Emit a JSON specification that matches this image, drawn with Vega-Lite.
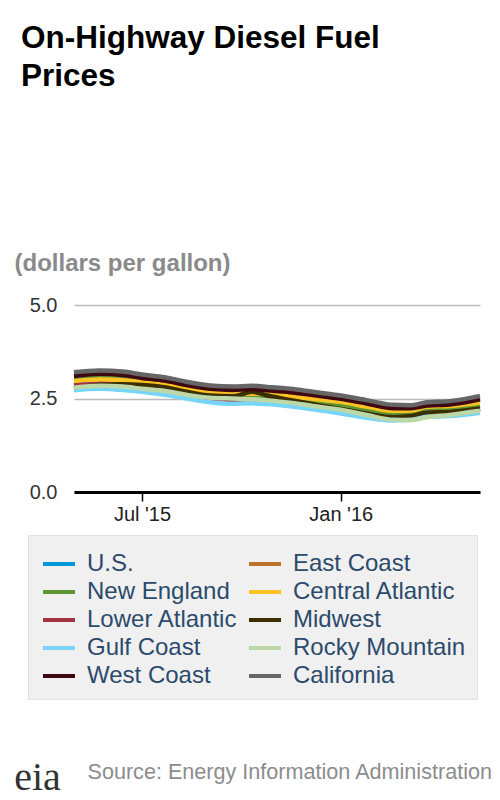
{
  "$schema": "https://vega.github.io/schema/vega-lite/v6.json",
  "width": 406,
  "height": 187,
  "autosize": {"type": "none"},
  "padding": {"left": 74, "top": 305, "right": 20, "bottom": 308},
  "background": "white",
  "title": {
    "text": ["On-Highway Diesel Fuel", "Prices"],
    "anchor": "start",
    "frame": "group",
    "align": "left",
    "baseline": "bottom",
    "dx": -53,
    "offset": 127,
    "font": "Liberation Sans",
    "fontSize": 31.5,
    "fontWeight": "bold",
    "lineHeight": 38,
    "color": "#000000"
  },
  "data": {
    "values": [
      {"r": "U.S.", "d": "2015-04-29", "p": 2.86}, {"r": "U.S.", "d": "2015-05-23", "p": 2.92}, {"r": "U.S.", "d": "2015-06-13", "p": 2.89}, {"r": "U.S.", "d": "2015-07-01", "p": 2.82}, {"r": "U.S.", "d": "2015-07-22", "p": 2.74}, {"r": "U.S.", "d": "2015-08-11", "p": 2.62}, {"r": "U.S.", "d": "2015-09-02", "p": 2.52}, {"r": "U.S.", "d": "2015-09-23", "p": 2.49}, {"r": "U.S.", "d": "2015-10-11", "p": 2.52}, {"r": "U.S.", "d": "2015-10-25", "p": 2.49}, {"r": "U.S.", "d": "2015-11-15", "p": 2.43}, {"r": "U.S.", "d": "2015-12-06", "p": 2.35}, {"r": "U.S.", "d": "2016-01-01", "p": 2.26}, {"r": "U.S.", "d": "2016-01-26", "p": 2.12}, {"r": "U.S.", "d": "2016-02-19", "p": 2.02}, {"r": "U.S.", "d": "2016-03-06", "p": 2.04}, {"r": "U.S.", "d": "2016-03-21", "p": 2.13}, {"r": "U.S.", "d": "2016-04-11", "p": 2.16}, {"r": "U.S.", "d": "2016-05-09", "p": 2.25},
      {"r": "East Coast", "d": "2015-04-29", "p": 2.98}, {"r": "East Coast", "d": "2015-05-23", "p": 3.02}, {"r": "East Coast", "d": "2015-06-13", "p": 2.99}, {"r": "East Coast", "d": "2015-07-01", "p": 2.92}, {"r": "East Coast", "d": "2015-07-22", "p": 2.85}, {"r": "East Coast", "d": "2015-08-11", "p": 2.73}, {"r": "East Coast", "d": "2015-09-02", "p": 2.61}, {"r": "East Coast", "d": "2015-09-23", "p": 2.56}, {"r": "East Coast", "d": "2015-10-11", "p": 2.55}, {"r": "East Coast", "d": "2015-10-25", "p": 2.53}, {"r": "East Coast", "d": "2015-11-15", "p": 2.47}, {"r": "East Coast", "d": "2015-12-06", "p": 2.39}, {"r": "East Coast", "d": "2016-01-01", "p": 2.31}, {"r": "East Coast", "d": "2016-01-26", "p": 2.19}, {"r": "East Coast", "d": "2016-02-19", "p": 2.09}, {"r": "East Coast", "d": "2016-03-06", "p": 2.10}, {"r": "East Coast", "d": "2016-03-21", "p": 2.19}, {"r": "East Coast", "d": "2016-04-11", "p": 2.22}, {"r": "East Coast", "d": "2016-05-09", "p": 2.31},
      {"r": "New England", "d": "2015-04-29", "p": 3.05}, {"r": "New England", "d": "2015-05-23", "p": 3.08}, {"r": "New England", "d": "2015-06-13", "p": 3.04}, {"r": "New England", "d": "2015-07-01", "p": 2.97}, {"r": "New England", "d": "2015-07-22", "p": 2.90}, {"r": "New England", "d": "2015-08-11", "p": 2.78}, {"r": "New England", "d": "2015-09-02", "p": 2.64}, {"r": "New England", "d": "2015-09-23", "p": 2.58}, {"r": "New England", "d": "2015-10-11", "p": 2.57}, {"r": "New England", "d": "2015-10-25", "p": 2.55}, {"r": "New England", "d": "2015-11-15", "p": 2.50}, {"r": "New England", "d": "2015-12-06", "p": 2.42}, {"r": "New England", "d": "2016-01-01", "p": 2.32}, {"r": "New England", "d": "2016-01-26", "p": 2.20}, {"r": "New England", "d": "2016-02-19", "p": 2.10}, {"r": "New England", "d": "2016-03-06", "p": 2.10}, {"r": "New England", "d": "2016-03-21", "p": 2.20}, {"r": "New England", "d": "2016-04-11", "p": 2.24}, {"r": "New England", "d": "2016-05-09", "p": 2.32},
      {"r": "Central Atlantic", "d": "2015-04-29", "p": 2.96}, {"r": "Central Atlantic", "d": "2015-05-23", "p": 3.01}, {"r": "Central Atlantic", "d": "2015-06-13", "p": 2.99}, {"r": "Central Atlantic", "d": "2015-07-01", "p": 2.93}, {"r": "Central Atlantic", "d": "2015-07-22", "p": 2.86}, {"r": "Central Atlantic", "d": "2015-08-11", "p": 2.76}, {"r": "Central Atlantic", "d": "2015-09-02", "p": 2.67}, {"r": "Central Atlantic", "d": "2015-09-23", "p": 2.64}, {"r": "Central Atlantic", "d": "2015-10-11", "p": 2.63}, {"r": "Central Atlantic", "d": "2015-10-25", "p": 2.62}, {"r": "Central Atlantic", "d": "2015-11-15", "p": 2.56}, {"r": "Central Atlantic", "d": "2015-12-06", "p": 2.49}, {"r": "Central Atlantic", "d": "2016-01-01", "p": 2.41}, {"r": "Central Atlantic", "d": "2016-01-26", "p": 2.28}, {"r": "Central Atlantic", "d": "2016-02-19", "p": 2.17}, {"r": "Central Atlantic", "d": "2016-03-06", "p": 2.18}, {"r": "Central Atlantic", "d": "2016-03-21", "p": 2.28}, {"r": "Central Atlantic", "d": "2016-04-11", "p": 2.30}, {"r": "Central Atlantic", "d": "2016-05-09", "p": 2.39},
      {"r": "Lower Atlantic", "d": "2015-04-29", "p": 2.85}, {"r": "Lower Atlantic", "d": "2015-05-23", "p": 2.89}, {"r": "Lower Atlantic", "d": "2015-06-13", "p": 2.86}, {"r": "Lower Atlantic", "d": "2015-07-01", "p": 2.80}, {"r": "Lower Atlantic", "d": "2015-07-22", "p": 2.72}, {"r": "Lower Atlantic", "d": "2015-08-11", "p": 2.60}, {"r": "Lower Atlantic", "d": "2015-09-02", "p": 2.46}, {"r": "Lower Atlantic", "d": "2015-09-23", "p": 2.41}, {"r": "Lower Atlantic", "d": "2015-10-11", "p": 2.41}, {"r": "Lower Atlantic", "d": "2015-10-25", "p": 2.39}, {"r": "Lower Atlantic", "d": "2015-11-15", "p": 2.36}, {"r": "Lower Atlantic", "d": "2015-12-06", "p": 2.30}, {"r": "Lower Atlantic", "d": "2016-01-01", "p": 2.20}, {"r": "Lower Atlantic", "d": "2016-01-26", "p": 2.07}, {"r": "Lower Atlantic", "d": "2016-02-19", "p": 1.98}, {"r": "Lower Atlantic", "d": "2016-03-06", "p": 1.99}, {"r": "Lower Atlantic", "d": "2016-03-21", "p": 2.08}, {"r": "Lower Atlantic", "d": "2016-04-11", "p": 2.12}, {"r": "Lower Atlantic", "d": "2016-05-09", "p": 2.20},
      {"r": "Midwest", "d": "2015-04-29", "p": 2.76}, {"r": "Midwest", "d": "2015-05-23", "p": 2.86}, {"r": "Midwest", "d": "2015-06-13", "p": 2.88}, {"r": "Midwest", "d": "2015-07-01", "p": 2.86}, {"r": "Midwest", "d": "2015-07-22", "p": 2.80}, {"r": "Midwest", "d": "2015-08-11", "p": 2.68}, {"r": "Midwest", "d": "2015-09-02", "p": 2.58}, {"r": "Midwest", "d": "2015-09-23", "p": 2.56}, {"r": "Midwest", "d": "2015-10-11", "p": 2.68}, {"r": "Midwest", "d": "2015-10-25", "p": 2.58}, {"r": "Midwest", "d": "2015-11-15", "p": 2.46}, {"r": "Midwest", "d": "2015-12-06", "p": 2.35}, {"r": "Midwest", "d": "2016-01-01", "p": 2.22}, {"r": "Midwest", "d": "2016-01-26", "p": 2.09}, {"r": "Midwest", "d": "2016-02-19", "p": 2.00}, {"r": "Midwest", "d": "2016-03-06", "p": 2.03}, {"r": "Midwest", "d": "2016-03-21", "p": 2.12}, {"r": "Midwest", "d": "2016-04-11", "p": 2.14}, {"r": "Midwest", "d": "2016-05-09", "p": 2.23},
      {"r": "Gulf Coast", "d": "2015-04-29", "p": 2.72}, {"r": "Gulf Coast", "d": "2015-05-23", "p": 2.76}, {"r": "Gulf Coast", "d": "2015-06-13", "p": 2.73}, {"r": "Gulf Coast", "d": "2015-07-01", "p": 2.68}, {"r": "Gulf Coast", "d": "2015-07-22", "p": 2.60}, {"r": "Gulf Coast", "d": "2015-08-11", "p": 2.50}, {"r": "Gulf Coast", "d": "2015-09-02", "p": 2.40}, {"r": "Gulf Coast", "d": "2015-09-23", "p": 2.36}, {"r": "Gulf Coast", "d": "2015-10-11", "p": 2.37}, {"r": "Gulf Coast", "d": "2015-10-25", "p": 2.35}, {"r": "Gulf Coast", "d": "2015-11-15", "p": 2.29}, {"r": "Gulf Coast", "d": "2015-12-06", "p": 2.21}, {"r": "Gulf Coast", "d": "2016-01-01", "p": 2.10}, {"r": "Gulf Coast", "d": "2016-01-26", "p": 1.98}, {"r": "Gulf Coast", "d": "2016-02-19", "p": 1.91}, {"r": "Gulf Coast", "d": "2016-03-06", "p": 1.93}, {"r": "Gulf Coast", "d": "2016-03-21", "p": 2.01}, {"r": "Gulf Coast", "d": "2016-04-11", "p": 2.03}, {"r": "Gulf Coast", "d": "2016-05-09", "p": 2.12},
      {"r": "Rocky Mountain", "d": "2015-04-29", "p": 2.79}, {"r": "Rocky Mountain", "d": "2015-05-23", "p": 2.84}, {"r": "Rocky Mountain", "d": "2015-06-13", "p": 2.82}, {"r": "Rocky Mountain", "d": "2015-07-01", "p": 2.76}, {"r": "Rocky Mountain", "d": "2015-07-22", "p": 2.70}, {"r": "Rocky Mountain", "d": "2015-08-11", "p": 2.60}, {"r": "Rocky Mountain", "d": "2015-09-02", "p": 2.52}, {"r": "Rocky Mountain", "d": "2015-09-23", "p": 2.50}, {"r": "Rocky Mountain", "d": "2015-10-11", "p": 2.48}, {"r": "Rocky Mountain", "d": "2015-10-25", "p": 2.45}, {"r": "Rocky Mountain", "d": "2015-11-15", "p": 2.39}, {"r": "Rocky Mountain", "d": "2015-12-06", "p": 2.30}, {"r": "Rocky Mountain", "d": "2016-01-01", "p": 2.20}, {"r": "Rocky Mountain", "d": "2016-01-26", "p": 2.05}, {"r": "Rocky Mountain", "d": "2016-02-19", "p": 1.93}, {"r": "Rocky Mountain", "d": "2016-03-06", "p": 1.92}, {"r": "Rocky Mountain", "d": "2016-03-21", "p": 2.00}, {"r": "Rocky Mountain", "d": "2016-04-11", "p": 2.06}, {"r": "Rocky Mountain", "d": "2016-05-09", "p": 2.17},
      {"r": "West Coast", "d": "2015-04-29", "p": 3.10}, {"r": "West Coast", "d": "2015-05-23", "p": 3.16}, {"r": "West Coast", "d": "2015-06-13", "p": 3.13}, {"r": "West Coast", "d": "2015-07-01", "p": 3.05}, {"r": "West Coast", "d": "2015-07-22", "p": 2.98}, {"r": "West Coast", "d": "2015-08-11", "p": 2.86}, {"r": "West Coast", "d": "2015-09-02", "p": 2.76}, {"r": "West Coast", "d": "2015-09-23", "p": 2.73}, {"r": "West Coast", "d": "2015-10-11", "p": 2.75}, {"r": "West Coast", "d": "2015-10-25", "p": 2.72}, {"r": "West Coast", "d": "2015-11-15", "p": 2.67}, {"r": "West Coast", "d": "2015-12-06", "p": 2.59}, {"r": "West Coast", "d": "2016-01-01", "p": 2.49}, {"r": "West Coast", "d": "2016-01-26", "p": 2.36}, {"r": "West Coast", "d": "2016-02-19", "p": 2.24}, {"r": "West Coast", "d": "2016-03-06", "p": 2.24}, {"r": "West Coast", "d": "2016-03-21", "p": 2.31}, {"r": "West Coast", "d": "2016-04-11", "p": 2.34}, {"r": "West Coast", "d": "2016-05-09", "p": 2.48},
      {"r": "California", "d": "2015-04-29", "p": 3.20}, {"r": "California", "d": "2015-05-23", "p": 3.25}, {"r": "California", "d": "2015-06-13", "p": 3.22}, {"r": "California", "d": "2015-07-01", "p": 3.14}, {"r": "California", "d": "2015-07-22", "p": 3.07}, {"r": "California", "d": "2015-08-11", "p": 2.95}, {"r": "California", "d": "2015-09-02", "p": 2.85}, {"r": "California", "d": "2015-09-23", "p": 2.82}, {"r": "California", "d": "2015-10-11", "p": 2.84}, {"r": "California", "d": "2015-10-25", "p": 2.81}, {"r": "California", "d": "2015-11-15", "p": 2.76}, {"r": "California", "d": "2015-12-06", "p": 2.68}, {"r": "California", "d": "2016-01-01", "p": 2.58}, {"r": "California", "d": "2016-01-26", "p": 2.45}, {"r": "California", "d": "2016-02-19", "p": 2.33}, {"r": "California", "d": "2016-03-06", "p": 2.32}, {"r": "California", "d": "2016-03-21", "p": 2.40}, {"r": "California", "d": "2016-04-11", "p": 2.43}, {"r": "California", "d": "2016-05-09", "p": 2.57}
    ]
  },
  "layer": [
    {
      "mark": {"type": "line", "strokeWidth": 4.5, "interpolate": "monotone"},
      "encoding": {
        "x": {
          "field": "d",
          "type": "temporal",
          "scale": {"type": "utc"},
          "axis": {
            "values": [
              {"year": 2015, "month": 7, "date": 1, "utc": true},
              {"year": 2016, "month": 1, "date": 1, "utc": true}
            ],
            "format": "%b '%y",
            "labelFontSize": 20,
            "labelColor": "#222222",
            "labelPadding": 3,
            "tickColor": "#000000",
            "tickWidth": 1.5,
            "tickSize": 9,
            "domainColor": "#000000",
            "domainWidth": 3,
            "grid": false,
            "title": "Source: Energy Information Administration",
            "titleX": 13,
            "titleY": 280,
            "titleAlign": "left",
            "titleBaseline": "middle",
            "titleFontSize": 21.6,
            "titleFontWeight": "normal",
            "titleColor": "#8c8c8c"
          }
        },
        "y": {
          "field": "p",
          "type": "quantitative",
          "scale": {"domain": [0, 5], "nice": false},
          "axis": {
            "values": [0, 2.5, 5],
            "format": ".1f",
            "labelFontSize": 20,
            "labelColor": "#333333",
            "labelPadding": 17,
            "ticks": false,
            "domain": false,
            "gridColor": "#bbbbbb",
            "gridWidth": 1.5,
            "title": "(dollars per gallon)",
            "titleAngle": 0,
            "titleX": -60,
            "titleY": -42,
            "titleAlign": "left",
            "titleBaseline": "middle",
            "titleFontSize": 24,
            "titleFontWeight": "bold",
            "titleColor": "#8a8a8a"
          }
        },
        "color": {
          "field": "r",
          "type": "nominal",
          "scale": {
            "domain": ["U.S.", "East Coast", "New England", "Central Atlantic", "Lower Atlantic", "Midwest", "Gulf Coast", "Rocky Mountain", "West Coast", "California"],
            "range": ["#0096d7", "#bd732a", "#5d9732", "#ffc423", "#a33340", "#3b2e00", "#76d5f8", "#bcd8a8", "#3e0812", "#666666"]
          },
          "legend": {
            "title": null,
            "orient": "none",
            "direction": "horizontal",
            "legendX": -46,
            "legendY": 230,
            "columns": 2,
            "gridAlign": "none",
            "columnPadding": 3,
            "rowPadding": -2,
            "padding": 11,
            "symbolOffset": 2,
            "fillColor": "#f0f0f0",
            "strokeColor": "#e2e2e2",
            "symbolType": "stroke",
            "symbolSize": 1024,
            "symbolStrokeWidth": 4,
            "labelOffset": 10,
            "labelFontSize": 24,
            "labelColor": "#2c4a6b",
            "labelLimit": 300
          }
        }
      }
    },
    {
      "mark": {"type": "point", "opacity": 0},
      "encoding": {
        "y": {
          "field": "p",
          "type": "quantitative",
          "axis": {
            "orient": "right",
            "labels": false,
            "ticks": false,
            "domain": false,
            "grid": false,
            "title": "eia",
            "titleAngle": 0,
            "titleX": -443,
            "titleY": 472,
            "titleAlign": "center",
            "titleBaseline": "middle",
            "titleFont": "Liberation Serif",
            "titleFontSize": 40,
            "titleFontWeight": "normal",
            "titleColor": "#333333"
          }
        }
      }
    }
  ],
  "resolve": {"axis": {"y": "independent"}},
  "config": {
    "font": "Liberation Sans",
    "view": {"stroke": null},
    "legend": {"gridAlign": "none"}
  }
}
